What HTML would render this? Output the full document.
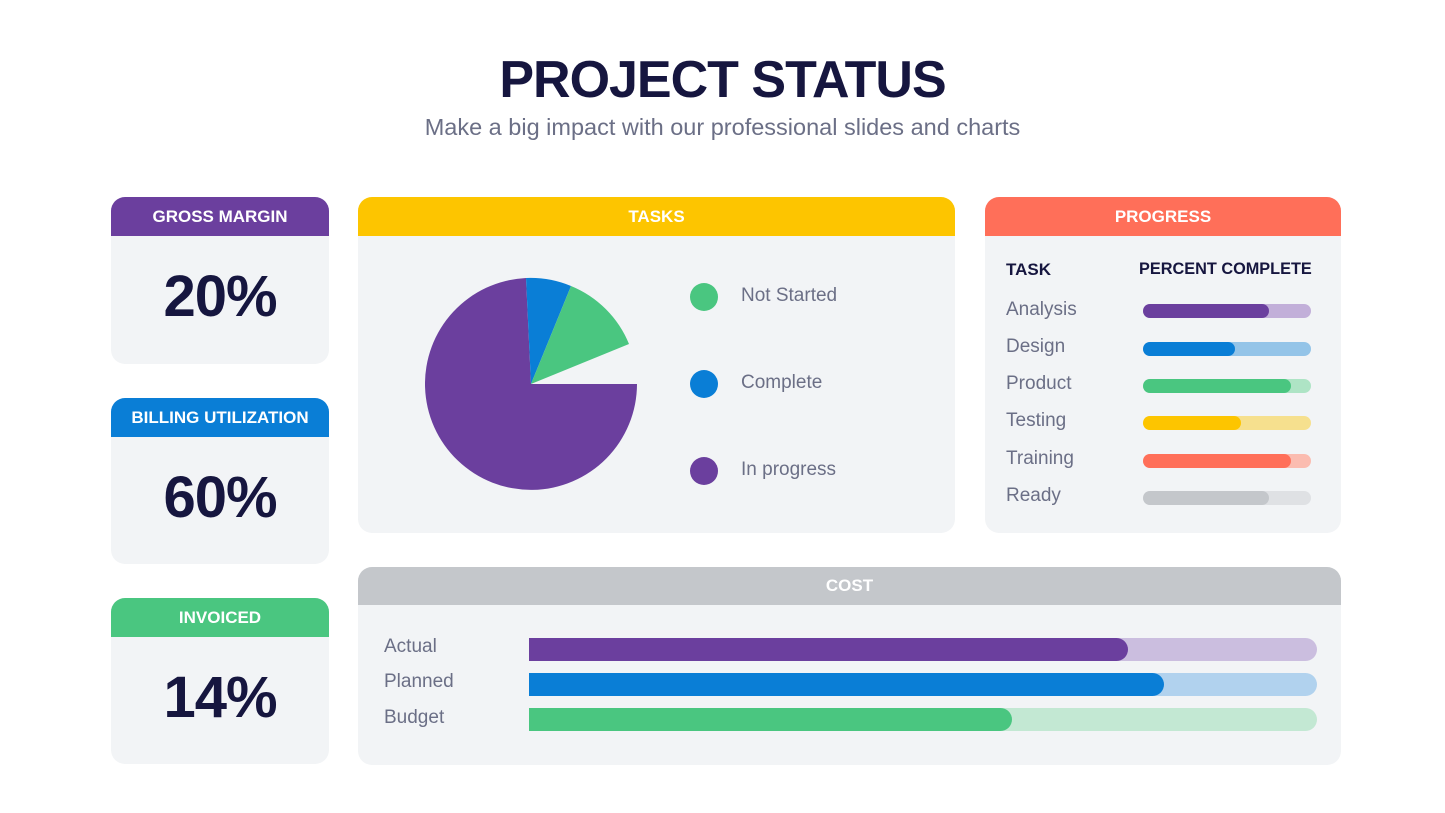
<!DOCTYPE html>
<html><head><meta charset="utf-8"><style>
*{margin:0;padding:0;box-sizing:border-box}
body{width:1445px;height:813px;background:#fff;position:relative;overflow:hidden;font-family:"Liberation Sans",sans-serif}
.a{position:absolute}
.card{position:absolute;background:#f2f4f6;border-radius:14px;overflow:hidden}
.hd{position:absolute;left:0;right:0;top:0;height:39px;color:#fff;font-weight:bold;font-size:17px;text-align:center;line-height:39px}
.big{position:absolute;left:0;right:0;text-align:center;font-weight:bold;font-size:58px;color:#16163f;letter-spacing:-1px}
.lbl{position:absolute;color:#6b6f86;font-size:19px}
.pb{position:absolute;left:158px;width:168px;height:14px;border-radius:7px}
.pb div{height:14px;border-radius:7px}
.cb{position:absolute;left:171px;width:788px;height:23px;border-radius:0 12px 12px 0}
.cb div{height:23px;border-radius:0 12px 12px 0}
</style></head><body>
<div class="a" style="left:0;right:0;top:50px;text-align:center;font-weight:bold;font-size:52px;color:#16163f;letter-spacing:-1px">PROJECT STATUS</div>
<div class="a" style="left:0;right:0;top:114px;text-align:center;font-size:23.5px;color:#6b6f86">Make a big impact with our professional slides and charts</div>

<div class="card" style="left:111px;top:197px;width:218px;height:167px"><div class="hd" style="background:#6b3f9e">GROSS MARGIN</div><div class="big" style="top:66px">20%</div></div>
<div class="card" style="left:111px;top:398px;width:218px;height:166px"><div class="hd" style="background:#0a7ed6">BILLING UTILIZATION</div><div class="big" style="top:66px">60%</div></div>
<div class="card" style="left:111px;top:598px;width:218px;height:166px"><div class="hd" style="background:#4ac680">INVOICED</div><div class="big" style="top:66px">14%</div></div>

<div class="card" style="left:358px;top:197px;width:597px;height:336px"><div class="hd" style="background:#fdc500">TASKS</div>
<svg class="a" style="left:0;top:0" width="597" height="336" viewBox="358 197 597 336">
<path d="M531 384 L637 384 A106 106 0 1 1 526 278 Z" fill="#6b3f9e"/>
<path d="M531 384 L526 278 A106 106 0 0 1 571 286 Z" fill="#0a7ed6"/>
<path d="M531 384 L571 286 A106 106 0 0 1 629 344 Z" fill="#4ac680"/>
<circle cx="704" cy="297" r="14" fill="#4ac680"/>
<circle cx="704" cy="384" r="14" fill="#0a7ed6"/>
<circle cx="704" cy="471" r="14" fill="#6b3f9e"/>
</svg>
<div class="lbl" style="left:383px;top:88px">Not Started</div>
<div class="lbl" style="left:383px;top:175px">Complete</div>
<div class="lbl" style="left:383px;top:262px">In progress</div>
</div>

<div class="card" style="left:985px;top:197px;width:356px;height:336px"><div class="hd" style="background:#ff6f59">PROGRESS</div>
<div class="a" style="left:21px;top:63px;font-weight:bold;font-size:17px;color:#16163f">TASK</div>
<div class="a" style="left:154px;top:63px;font-weight:bold;font-size:16.3px;color:#16163f">PERCENT COMPLETE</div>
<div class="lbl" style="left:21px;top:102px">Analysis</div>
<div class="lbl" style="left:21px;top:139px">Design</div>
<div class="lbl" style="left:21px;top:176px">Product</div>
<div class="lbl" style="left:21px;top:213px">Testing</div>
<div class="lbl" style="left:21px;top:251px">Training</div>
<div class="lbl" style="left:21px;top:288px">Ready</div>
<div class="pb" style="top:107px;background:#c2afd9"><div style="width:126px;background:#6b3f9e"></div></div>
<div class="pb" style="top:145px;background:#94c4e8"><div style="width:92px;background:#0a7ed6"></div></div>
<div class="pb" style="top:182px;background:#aee4c5"><div style="width:148px;background:#4ac680"></div></div>
<div class="pb" style="top:219px;background:#f6e08e"><div style="width:98px;background:#fdc500"></div></div>
<div class="pb" style="top:257px;background:#fbbcb0"><div style="width:148px;background:#ff6f59"></div></div>
<div class="pb" style="top:294px;background:#dfe1e4"><div style="width:126px;background:#c4c7cb"></div></div>
</div>

<div class="card" style="left:358px;top:567px;width:983px;height:198px"><div class="hd" style="background:#c4c7cb;height:38px;line-height:38px">COST</div>
<div class="lbl" style="left:26px;top:69px">Actual</div>
<div class="lbl" style="left:26px;top:104px">Planned</div>
<div class="lbl" style="left:26px;top:140px">Budget</div>
<div class="cb" style="top:71px;background:#cbbedf"><div style="width:599px;background:#6b3f9e"></div></div>
<div class="cb" style="top:106px;background:#b1d2ee"><div style="width:635px;background:#0a7ed6"></div></div>
<div class="cb" style="top:141px;background:#c3e8d3"><div style="width:483px;background:#4ac680"></div></div>
</div>
</body></html>
